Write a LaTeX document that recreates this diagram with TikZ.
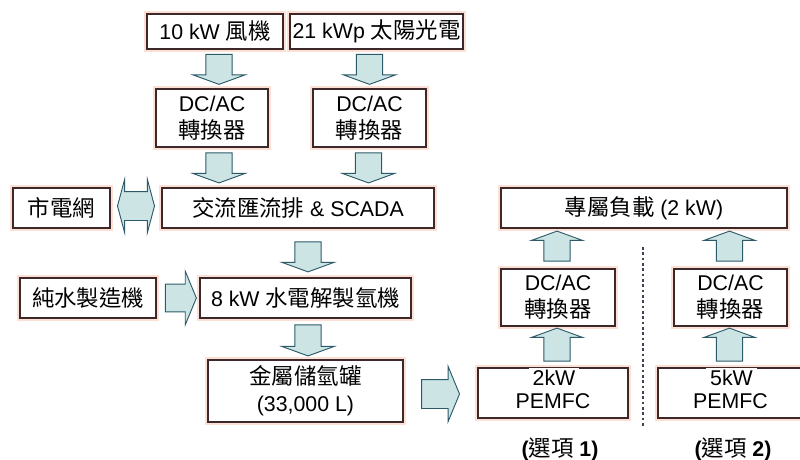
\documentclass[tikz,border=0pt]{standalone}
\usepackage{fontspec}
\setmainfont{Liberation Sans}
\newfontfamily\cjk{Noto Sans CJK TC}[Scale=1.05]
\usetikzlibrary{shapes.arrows,calc}
\definecolor{boxc}{RGB}{60,40,40}
\definecolor{glow}{RGB}{252,224,214}
\definecolor{arrfill}{RGB}{205,228,228}
\definecolor{arrdraw}{RGB}{45,90,105}
\definecolor{sepc}{RGB}{60,70,80}
\tikzset{
  box/.style={draw=boxc, line width=0.8pt, fill=white,
    preaction={draw=glow, line width=4pt},
    align=center, inner sep=0pt, font=\fontsize{16}{20}\selectfont},
  wh/.style 2 args={minimum width=#1*0.75pt, minimum height=#2*0.75pt},
  blk/.style={single arrow, draw=arrdraw, fill=arrfill, line width=0.7pt,
    inner xsep=0pt, inner ysep=9.5pt, single arrow head extend=9.75pt,
    single arrow tip angle=140, minimum height=22.5pt},
  dn/.style={blk, rotate=-90},
  up/.style={blk, rotate=90},
  rt/.style={blk},
  dbl/.style={double arrow, draw=arrdraw, fill=arrfill, line width=0.7pt,
    inner xsep=0pt, inner ysep=10.5pt, double arrow head extend=9pt,
    double arrow tip angle=150, minimum height=27.75pt},
  lbl/.style={inner sep=0pt, font=\fontsize{16}{20}\selectfont},
  sepline/.style={draw=sepc, line width=0.9pt, dash pattern=on 2pt off 2pt}
}
\begin{document}
\begin{tikzpicture}[x=0.75pt,y=-0.75pt]
\useasboundingbox (0,0) rectangle (800,460);
% boxes
\node[box, wh={136}{35}] (wind)  at (215,31.5)  {10 kW {\cjk 風機}};
\node[box, wh={173}{35}] (solar) at (376.5,31.5) {21 kWp {\cjk 太陽光電}};
\node[box, wh={112}{58}] (dc1)   at (212,118)   {DC/AC\\{\cjk 轉換器}};
\node[box, wh={113}{58}] (dc2)   at (369.5,118) {DC/AC\\{\cjk 轉換器}};
\node[box, wh={97}{40}]  (grid)  at (61.5,208)  {{\cjk 市電網}};
\node[box, wh={272}{40}] (bus)   at (298,208)   {{\cjk 交流匯流排} \& SCADA};
\node[box, wh={136}{40}] (water) at (88,298)    {{\cjk 純水製造機}};
\node[box, wh={211}{40}] (elec)  at (305.5,298) {8 kW {\cjk 水電解製氫機}};
\node[box, wh={195}{62}] (tank)  at (305.5,391) {{\cjk 金屬儲氫罐}\\(33,000 L)};
\node[box, wh={286}{40}] (load)  at (644,208)   {{\cjk 專屬負載} (2 kW)};
\node[box, wh={114}{57}] (dc3)   at (558,297.5) {DC/AC\\{\cjk 轉換器}};
\node[box, wh={113}{57}] (dc4)   at (730.5,297.5) {DC/AC\\{\cjk 轉換器}};
\node[box, wh={150}{50}] (fc1)   at (553,393)   {};
\node[box, wh={145}{50}] (fc2)   at (730.5,393) {};
\node[lbl] (fc1p) at ($(fc1.center)+(0,8)$) {PEMFC};
\node[lbl] (fc2p) at ($(fc2.center)+(0,8)$) {PEMFC};
\node[lbl, fill=white, inner xsep=3pt, inner ysep=1pt] (fc1k) at ($(fc1.north)+(1,10)$) {2kW};
\node[lbl, fill=white, inner xsep=3pt, inner ysep=1pt] (fc2k) at ($(fc2.north)+(1,10)$) {5kW};
% option labels
\node[lbl] (o1) at (560,449) {{\bfseries(}{\cjk 選項} {\bfseries 1)}};
\node[lbl] (o2) at (733,449) {{\bfseries(}{\cjk 選項} {\bfseries 2)}};
% separator
\coordinate (s1) at (643,247);
\coordinate (s2) at (643,428);
\draw[sepline] (s1) -- (s2);
% block arrows
\node[dn] (a1) at ($(dc1.north)+(7,-21.5)$) {};
\node[dn] (a2) at ($(dc2.north)+(0,-21.5)$) {};
\node[dn] (a3) at ($(dc1.south)+(7,18)$) {};
\node[dn] (a4) at ($(dc2.south)+(-1,18)$) {};
\node[dbl] (a5) at ($(grid.east)!0.5!(bus.west)+(0,-2)$) {};
\node[dn] (a6) at ($(elec.north)+(2.5,-23)$) {};
\node[rt, minimum height=23.25pt, inner ysep=10pt, single arrow tip angle=135] (a7) at ($(water.east)!0.5!(elec.west)$) {};
\node[dn, minimum height=23.25pt] (a8) at ($(elec.south)+(2.5,19.5)$) {};
\node[rt, minimum height=28.5pt, inner ysep=10.5pt, single arrow tip angle=135] (a9) at ($(tank.east)+(34,3)$) {};
\node[up, single arrow head extend=9.4pt] (a10) at ($(dc3.north)!0.5!(dc3.north|-load.south)+(-1,0)$) {};
\node[up, minimum height=24.75pt, single arrow head extend=9.4pt] (a11) at ($(dc3.south)!0.5!(dc3.south|-fc1.north)+(-1,0)$) {};
\node[up, single arrow head extend=9.4pt] (a12) at ($(dc4.north)!0.5!(dc4.north|-load.south)+(-1,0)$) {};
\node[up, minimum height=24.75pt, single arrow head extend=9.4pt] (a13) at ($(dc4.south)!0.5!(dc4.south|-fc2.north)+(-1,0)$) {};
\end{tikzpicture}
\end{document}
